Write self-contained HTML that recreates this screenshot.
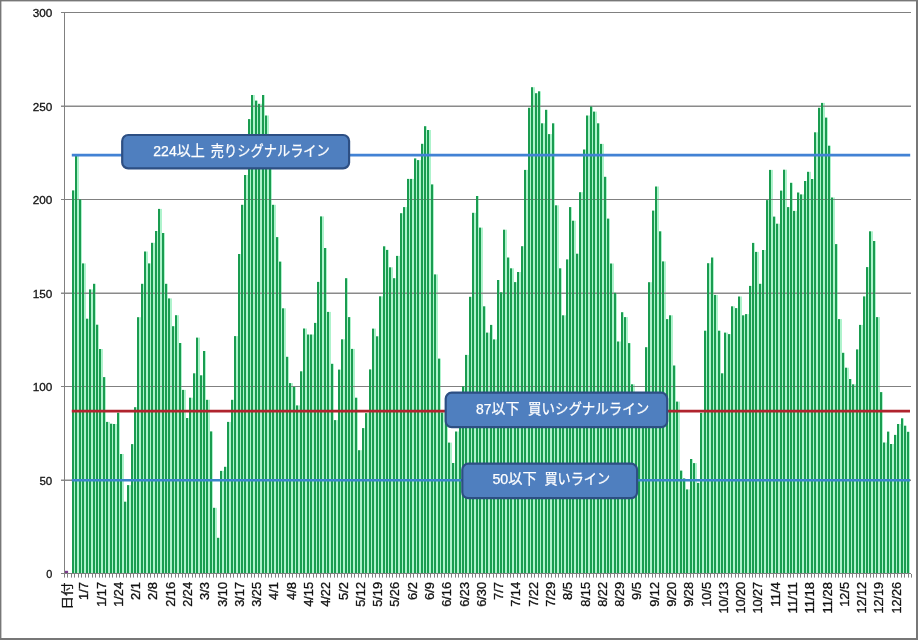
<!DOCTYPE html><html><head><meta charset="utf-8"><style>html,body{margin:0;padding:0;background:#fff;}svg{display:block;will-change:transform;}text{font-family:"Liberation Sans","Noto Sans CJK JP",sans-serif;}</style></head><body>
<svg width="918" height="640" viewBox="0 0 918 640">
<rect x="0" y="0" width="918" height="640" fill="#fff"/>
<g fill="#aef3cc"><rect x="74" y="190.4" width="1" height="382.6"/><rect x="77" y="156.0" width="2" height="417.0"/><rect x="81" y="199.4" width="1" height="373.6"/><rect x="84" y="263.4" width="2" height="309.6"/><rect x="88" y="318.7" width="1" height="254.3"/><rect x="91" y="289.4" width="2" height="283.6"/><rect x="95" y="283.8" width="1" height="289.2"/><rect x="98" y="324.7" width="1" height="248.3"/><rect x="101" y="349.0" width="2" height="224.0"/><rect x="105" y="377.1" width="1" height="195.9"/><rect x="108" y="421.9" width="2" height="151.1"/><rect x="112" y="423.7" width="1" height="149.3"/><rect x="115" y="424.0" width="2" height="149.0"/><rect x="119" y="412.7" width="1" height="160.3"/><rect x="122" y="454.0" width="2" height="119.0"/><rect x="126" y="501.7" width="1" height="71.3"/><rect x="129" y="485.1" width="2" height="87.9"/><rect x="133" y="444.1" width="1" height="128.9"/><rect x="136" y="407.2" width="1" height="165.8"/><rect x="139" y="317.2" width="2" height="255.8"/><rect x="143" y="283.8" width="1" height="289.2"/><rect x="146" y="251.5" width="2" height="321.5"/><rect x="150" y="263.4" width="1" height="309.6"/><rect x="153" y="242.8" width="2" height="330.2"/><rect x="157" y="231.0" width="1" height="342.0"/><rect x="160" y="208.9" width="2" height="364.1"/><rect x="164" y="233.0" width="1" height="340.0"/><rect x="167" y="283.8" width="1" height="289.2"/><rect x="170" y="298.4" width="2" height="274.6"/><rect x="174" y="326.2" width="1" height="246.8"/><rect x="177" y="315.2" width="2" height="257.8"/><rect x="181" y="343.0" width="1" height="230.0"/><rect x="184" y="389.9" width="2" height="183.1"/><rect x="188" y="418.0" width="1" height="155.0"/><rect x="191" y="397.7" width="2" height="175.3"/><rect x="195" y="373.3" width="1" height="199.7"/><rect x="198" y="337.6" width="2" height="235.4"/><rect x="202" y="375.3" width="1" height="197.7"/><rect x="205" y="351.0" width="1" height="222.0"/><rect x="208" y="399.8" width="2" height="173.2"/><rect x="212" y="431.4" width="1" height="141.6"/><rect x="215" y="507.8" width="2" height="65.2"/><rect x="219" y="537.8" width="1" height="35.2"/><rect x="222" y="470.9" width="2" height="102.1"/><rect x="226" y="466.8" width="1" height="106.2"/><rect x="229" y="421.9" width="2" height="151.1"/><rect x="233" y="399.8" width="1" height="173.2"/><rect x="236" y="336.1" width="2" height="236.9"/><rect x="240" y="254.0" width="1" height="319.0"/><rect x="243" y="204.8" width="1" height="368.2"/><rect x="246" y="175.0" width="2" height="398.0"/><rect x="250" y="119.1" width="1" height="453.9"/><rect x="253" y="95.0" width="2" height="478.0"/><rect x="257" y="100.6" width="1" height="472.4"/><rect x="260" y="103.8" width="2" height="469.2"/><rect x="264" y="95.0" width="1" height="478.0"/><rect x="267" y="115.5" width="2" height="457.5"/><rect x="271" y="150.0" width="1" height="423.0"/><rect x="274" y="204.8" width="2" height="368.2"/><rect x="278" y="237.1" width="1" height="335.9"/><rect x="281" y="261.6" width="1" height="311.4"/><rect x="284" y="308.3" width="2" height="264.7"/><rect x="288" y="356.8" width="1" height="216.2"/><rect x="291" y="383.1" width="2" height="189.9"/><rect x="295" y="386.9" width="1" height="186.1"/><rect x="298" y="405.4" width="2" height="167.6"/><rect x="302" y="371.3" width="1" height="201.7"/><rect x="305" y="328.5" width="2" height="244.5"/><rect x="309" y="334.5" width="1" height="238.5"/><rect x="312" y="334.5" width="2" height="238.5"/><rect x="316" y="322.9" width="1" height="250.1"/><rect x="319" y="281.9" width="1" height="291.1"/><rect x="322" y="216.4" width="2" height="356.6"/><rect x="326" y="248.0" width="1" height="325.0"/><rect x="329" y="311.9" width="2" height="261.1"/><rect x="333" y="363.8" width="1" height="209.2"/><rect x="336" y="420.1" width="2" height="152.9"/><rect x="340" y="369.6" width="1" height="203.4"/><rect x="343" y="339.3" width="2" height="233.7"/><rect x="347" y="278.2" width="1" height="294.8"/><rect x="350" y="317.1" width="1" height="255.9"/><rect x="353" y="348.9" width="2" height="224.1"/><rect x="357" y="397.7" width="1" height="175.3"/><rect x="360" y="450.2" width="2" height="122.8"/><rect x="364" y="428.1" width="1" height="144.9"/><rect x="367" y="413.1" width="2" height="159.9"/><rect x="371" y="369.4" width="1" height="203.6"/><rect x="374" y="328.6" width="2" height="244.4"/><rect x="378" y="336.3" width="1" height="236.7"/><rect x="381" y="296.3" width="2" height="276.7"/><rect x="385" y="246.3" width="1" height="326.7"/><rect x="388" y="249.9" width="1" height="323.1"/><rect x="391" y="267.3" width="2" height="305.7"/><rect x="395" y="278.2" width="1" height="294.8"/><rect x="398" y="255.9" width="2" height="317.1"/><rect x="402" y="213.2" width="1" height="359.8"/><rect x="405" y="207.1" width="2" height="365.9"/><rect x="409" y="178.9" width="1" height="394.1"/><rect x="412" y="178.9" width="2" height="394.1"/><rect x="416" y="158.4" width="1" height="414.6"/><rect x="419" y="160.1" width="2" height="412.9"/><rect x="423" y="143.8" width="1" height="429.2"/><rect x="426" y="126.2" width="1" height="446.8"/><rect x="429" y="130.0" width="2" height="443.0"/><rect x="433" y="184.4" width="1" height="388.6"/><rect x="436" y="274.4" width="2" height="298.6"/><rect x="440" y="358.6" width="1" height="214.4"/><rect x="443" y="412.5" width="2" height="160.5"/><rect x="447" y="400.0" width="1" height="173.0"/><rect x="450" y="442.6" width="2" height="130.4"/><rect x="454" y="463.0" width="1" height="110.0"/><rect x="457" y="431.5" width="2" height="141.5"/><rect x="461" y="405.0" width="1" height="168.0"/><rect x="464" y="386.4" width="1" height="186.6"/><rect x="467" y="354.9" width="2" height="218.1"/><rect x="471" y="296.8" width="1" height="276.2"/><rect x="474" y="212.8" width="2" height="360.2"/><rect x="478" y="196.0" width="1" height="377.0"/><rect x="481" y="227.6" width="2" height="345.4"/><rect x="485" y="306.3" width="1" height="266.7"/><rect x="488" y="332.6" width="2" height="240.4"/><rect x="492" y="324.9" width="1" height="248.1"/><rect x="495" y="339.4" width="2" height="233.6"/><rect x="499" y="280.0" width="1" height="293.0"/><rect x="502" y="292.3" width="1" height="280.7"/><rect x="505" y="229.7" width="2" height="343.3"/><rect x="509" y="257.5" width="1" height="315.5"/><rect x="512" y="268.3" width="2" height="304.7"/><rect x="516" y="282.1" width="1" height="290.9"/><rect x="519" y="272.0" width="2" height="301.0"/><rect x="523" y="246.2" width="1" height="326.8"/><rect x="526" y="169.9" width="2" height="403.1"/><rect x="530" y="107.8" width="1" height="465.2"/><rect x="533" y="87.2" width="2" height="485.8"/><rect x="537" y="93.2" width="1" height="479.8"/><rect x="540" y="91.3" width="1" height="481.7"/><rect x="543" y="123.3" width="2" height="449.7"/><rect x="547" y="109.8" width="1" height="463.2"/><rect x="550" y="134.1" width="2" height="438.9"/><rect x="554" y="123.3" width="1" height="449.7"/><rect x="557" y="205.3" width="2" height="367.7"/><rect x="561" y="268.3" width="1" height="304.7"/><rect x="564" y="315.3" width="2" height="257.7"/><rect x="568" y="259.4" width="1" height="313.6"/><rect x="571" y="207.1" width="1" height="365.9"/><rect x="574" y="220.7" width="2" height="352.3"/><rect x="578" y="253.7" width="1" height="319.3"/><rect x="581" y="192.2" width="2" height="380.8"/><rect x="585" y="149.5" width="1" height="423.5"/><rect x="588" y="115.5" width="2" height="457.5"/><rect x="592" y="106.5" width="1" height="466.5"/><rect x="595" y="111.6" width="2" height="461.4"/><rect x="599" y="123.3" width="1" height="449.7"/><rect x="602" y="143.9" width="2" height="429.1"/><rect x="606" y="176.8" width="1" height="396.2"/><rect x="609" y="218.6" width="1" height="354.4"/><rect x="612" y="263.5" width="2" height="309.5"/><rect x="616" y="292.8" width="1" height="280.2"/><rect x="619" y="341.5" width="2" height="231.5"/><rect x="623" y="312.2" width="1" height="260.8"/><rect x="626" y="317.1" width="2" height="255.9"/><rect x="630" y="343.1" width="1" height="229.9"/><rect x="633" y="384.3" width="2" height="188.7"/><rect x="637" y="410.0" width="1" height="163.0"/><rect x="640" y="410.0" width="2" height="163.0"/><rect x="644" y="410.0" width="1" height="163.0"/><rect x="647" y="347.2" width="1" height="225.8"/><rect x="650" y="282.2" width="2" height="290.8"/><rect x="654" y="210.6" width="1" height="362.4"/><rect x="657" y="186.5" width="2" height="386.5"/><rect x="661" y="231.3" width="1" height="341.7"/><rect x="664" y="261.4" width="2" height="311.6"/><rect x="668" y="319.1" width="1" height="253.9"/><rect x="671" y="315.3" width="2" height="257.7"/><rect x="675" y="365.5" width="1" height="207.5"/><rect x="678" y="401.6" width="2" height="171.4"/><rect x="682" y="470.6" width="1" height="102.4"/><rect x="685" y="478.4" width="1" height="94.6"/><rect x="688" y="489.4" width="2" height="83.6"/><rect x="692" y="459.0" width="1" height="114.0"/><rect x="695" y="463.1" width="2" height="109.9"/><rect x="699" y="482.9" width="1" height="90.1"/><rect x="702" y="412.8" width="2" height="160.2"/><rect x="706" y="330.7" width="1" height="242.3"/><rect x="709" y="263.2" width="2" height="309.8"/><rect x="713" y="257.5" width="1" height="315.5"/><rect x="716" y="294.9" width="2" height="278.1"/><rect x="720" y="330.7" width="1" height="242.3"/><rect x="723" y="373.3" width="1" height="199.7"/><rect x="726" y="332.6" width="2" height="240.4"/><rect x="730" y="334.1" width="1" height="238.9"/><rect x="733" y="306.3" width="2" height="266.7"/><rect x="737" y="308.1" width="1" height="264.9"/><rect x="740" y="296.5" width="2" height="276.5"/><rect x="744" y="315.3" width="1" height="257.7"/><rect x="747" y="314.1" width="2" height="258.9"/><rect x="751" y="285.9" width="1" height="287.1"/><rect x="754" y="242.9" width="1" height="330.1"/><rect x="757" y="251.9" width="2" height="321.1"/><rect x="761" y="283.8" width="1" height="289.2"/><rect x="764" y="250.0" width="2" height="323.0"/><rect x="768" y="200.1" width="1" height="372.9"/><rect x="771" y="169.9" width="2" height="403.1"/><rect x="775" y="216.6" width="1" height="356.4"/><rect x="778" y="223.7" width="2" height="349.3"/><rect x="782" y="190.6" width="1" height="382.4"/><rect x="785" y="169.7" width="2" height="403.3"/><rect x="789" y="207.1" width="1" height="365.9"/><rect x="792" y="182.8" width="1" height="390.2"/><rect x="795" y="210.9" width="2" height="362.1"/><rect x="799" y="192.5" width="1" height="380.5"/><rect x="802" y="194.4" width="2" height="378.6"/><rect x="806" y="181.0" width="1" height="392.0"/><rect x="809" y="171.8" width="2" height="401.2"/><rect x="813" y="179.0" width="1" height="394.0"/><rect x="816" y="132.3" width="2" height="440.7"/><rect x="820" y="107.8" width="1" height="465.2"/><rect x="823" y="102.9" width="2" height="470.1"/><rect x="827" y="117.6" width="1" height="455.4"/><rect x="830" y="145.7" width="1" height="427.3"/><rect x="833" y="197.5" width="2" height="375.5"/><rect x="837" y="244.1" width="1" height="328.9"/><rect x="840" y="319.1" width="2" height="253.9"/><rect x="844" y="352.8" width="1" height="220.2"/><rect x="847" y="367.7" width="2" height="205.3"/><rect x="851" y="379.0" width="1" height="194.0"/><rect x="854" y="384.3" width="2" height="188.7"/><rect x="858" y="349.4" width="1" height="223.6"/><rect x="861" y="324.9" width="2" height="248.1"/><rect x="865" y="296.4" width="1" height="276.6"/><rect x="868" y="267.1" width="1" height="305.9"/><rect x="871" y="231.3" width="2" height="341.7"/><rect x="875" y="241.0" width="1" height="332.0"/><rect x="878" y="317.1" width="2" height="255.9"/><rect x="882" y="392.1" width="1" height="180.9"/><rect x="885" y="442.5" width="2" height="130.5"/><rect x="889" y="431.6" width="1" height="141.4"/><rect x="892" y="444.0" width="2" height="129.0"/><rect x="896" y="434.9" width="1" height="138.1"/><rect x="899" y="424.0" width="2" height="149.0"/><rect x="903" y="418.3" width="1" height="154.7"/><rect x="906" y="425.7" width="1" height="147.3"/><rect x="909" y="431.8" width="1" height="141.2"/></g>
<g><rect x="61" y="479.50" width="850" height="1.5" fill="#8a8a8a"/><rect x="61" y="386.00" width="850" height="1" fill="#808080"/><rect x="61" y="292.50" width="850" height="1.5" fill="#8a8a8a"/><rect x="61" y="199.00" width="850" height="1" fill="#808080"/><rect x="61" y="105.50" width="850" height="1.5" fill="#8a8a8a"/><rect x="61" y="12.00" width="850" height="1" fill="#808080"/></g>
<g fill="#1a9c50"><rect x="72" y="190.4" width="2" height="382.6"/><rect x="75" y="156.0" width="2" height="417.0"/><rect x="79" y="199.4" width="2" height="373.6"/><rect x="82" y="263.4" width="2" height="309.6"/><rect x="86" y="318.7" width="2" height="254.3"/><rect x="89" y="289.4" width="2" height="283.6"/><rect x="93" y="283.8" width="2" height="289.2"/><rect x="96" y="324.7" width="2" height="248.3"/><rect x="99" y="349.0" width="2" height="224.0"/><rect x="103" y="377.1" width="2" height="195.9"/><rect x="106" y="421.9" width="2" height="151.1"/><rect x="110" y="423.7" width="2" height="149.3"/><rect x="113" y="424.0" width="2" height="149.0"/><rect x="117" y="412.7" width="2" height="160.3"/><rect x="120" y="454.0" width="2" height="119.0"/><rect x="124" y="501.7" width="2" height="71.3"/><rect x="127" y="485.1" width="2" height="87.9"/><rect x="131" y="444.1" width="2" height="128.9"/><rect x="134" y="407.2" width="2" height="165.8"/><rect x="137" y="317.2" width="2" height="255.8"/><rect x="141" y="283.8" width="2" height="289.2"/><rect x="144" y="251.5" width="2" height="321.5"/><rect x="148" y="263.4" width="2" height="309.6"/><rect x="151" y="242.8" width="2" height="330.2"/><rect x="155" y="231.0" width="2" height="342.0"/><rect x="158" y="208.9" width="2" height="364.1"/><rect x="162" y="233.0" width="2" height="340.0"/><rect x="165" y="283.8" width="2" height="289.2"/><rect x="168" y="298.4" width="2" height="274.6"/><rect x="172" y="326.2" width="2" height="246.8"/><rect x="175" y="315.2" width="2" height="257.8"/><rect x="179" y="343.0" width="2" height="230.0"/><rect x="182" y="389.9" width="2" height="183.1"/><rect x="186" y="418.0" width="2" height="155.0"/><rect x="189" y="397.7" width="2" height="175.3"/><rect x="193" y="373.3" width="2" height="199.7"/><rect x="196" y="337.6" width="2" height="235.4"/><rect x="200" y="375.3" width="2" height="197.7"/><rect x="203" y="351.0" width="2" height="222.0"/><rect x="206" y="399.8" width="2" height="173.2"/><rect x="210" y="431.4" width="2" height="141.6"/><rect x="213" y="507.8" width="2" height="65.2"/><rect x="217" y="537.8" width="2" height="35.2"/><rect x="220" y="470.9" width="2" height="102.1"/><rect x="224" y="466.8" width="2" height="106.2"/><rect x="227" y="421.9" width="2" height="151.1"/><rect x="231" y="399.8" width="2" height="173.2"/><rect x="234" y="336.1" width="2" height="236.9"/><rect x="238" y="254.0" width="2" height="319.0"/><rect x="241" y="204.8" width="2" height="368.2"/><rect x="244" y="175.0" width="2" height="398.0"/><rect x="248" y="119.1" width="2" height="453.9"/><rect x="251" y="95.0" width="2" height="478.0"/><rect x="255" y="100.6" width="2" height="472.4"/><rect x="258" y="103.8" width="2" height="469.2"/><rect x="262" y="95.0" width="2" height="478.0"/><rect x="265" y="115.5" width="2" height="457.5"/><rect x="269" y="150.0" width="2" height="423.0"/><rect x="272" y="204.8" width="2" height="368.2"/><rect x="276" y="237.1" width="2" height="335.9"/><rect x="279" y="261.6" width="2" height="311.4"/><rect x="282" y="308.3" width="2" height="264.7"/><rect x="286" y="356.8" width="2" height="216.2"/><rect x="289" y="383.1" width="2" height="189.9"/><rect x="293" y="386.9" width="2" height="186.1"/><rect x="296" y="405.4" width="2" height="167.6"/><rect x="300" y="371.3" width="2" height="201.7"/><rect x="303" y="328.5" width="2" height="244.5"/><rect x="307" y="334.5" width="2" height="238.5"/><rect x="310" y="334.5" width="2" height="238.5"/><rect x="314" y="322.9" width="2" height="250.1"/><rect x="317" y="281.9" width="2" height="291.1"/><rect x="320" y="216.4" width="2" height="356.6"/><rect x="324" y="248.0" width="2" height="325.0"/><rect x="327" y="311.9" width="2" height="261.1"/><rect x="331" y="363.8" width="2" height="209.2"/><rect x="334" y="420.1" width="2" height="152.9"/><rect x="338" y="369.6" width="2" height="203.4"/><rect x="341" y="339.3" width="2" height="233.7"/><rect x="345" y="278.2" width="2" height="294.8"/><rect x="348" y="317.1" width="2" height="255.9"/><rect x="351" y="348.9" width="2" height="224.1"/><rect x="355" y="397.7" width="2" height="175.3"/><rect x="358" y="450.2" width="2" height="122.8"/><rect x="362" y="428.1" width="2" height="144.9"/><rect x="365" y="413.1" width="2" height="159.9"/><rect x="369" y="369.4" width="2" height="203.6"/><rect x="372" y="328.6" width="2" height="244.4"/><rect x="376" y="336.3" width="2" height="236.7"/><rect x="379" y="296.3" width="2" height="276.7"/><rect x="383" y="246.3" width="2" height="326.7"/><rect x="386" y="249.9" width="2" height="323.1"/><rect x="389" y="267.3" width="2" height="305.7"/><rect x="393" y="278.2" width="2" height="294.8"/><rect x="396" y="255.9" width="2" height="317.1"/><rect x="400" y="213.2" width="2" height="359.8"/><rect x="403" y="207.1" width="2" height="365.9"/><rect x="407" y="178.9" width="2" height="394.1"/><rect x="410" y="178.9" width="2" height="394.1"/><rect x="414" y="158.4" width="2" height="414.6"/><rect x="417" y="160.1" width="2" height="412.9"/><rect x="421" y="143.8" width="2" height="429.2"/><rect x="424" y="126.2" width="2" height="446.8"/><rect x="427" y="130.0" width="2" height="443.0"/><rect x="431" y="184.4" width="2" height="388.6"/><rect x="434" y="274.4" width="2" height="298.6"/><rect x="438" y="358.6" width="2" height="214.4"/><rect x="441" y="412.5" width="2" height="160.5"/><rect x="445" y="400.0" width="2" height="173.0"/><rect x="448" y="442.6" width="2" height="130.4"/><rect x="452" y="463.0" width="2" height="110.0"/><rect x="455" y="431.5" width="2" height="141.5"/><rect x="459" y="405.0" width="2" height="168.0"/><rect x="462" y="386.4" width="2" height="186.6"/><rect x="465" y="354.9" width="2" height="218.1"/><rect x="469" y="296.8" width="2" height="276.2"/><rect x="472" y="212.8" width="2" height="360.2"/><rect x="476" y="196.0" width="2" height="377.0"/><rect x="479" y="227.6" width="2" height="345.4"/><rect x="483" y="306.3" width="2" height="266.7"/><rect x="486" y="332.6" width="2" height="240.4"/><rect x="490" y="324.9" width="2" height="248.1"/><rect x="493" y="339.4" width="2" height="233.6"/><rect x="497" y="280.0" width="2" height="293.0"/><rect x="500" y="292.3" width="2" height="280.7"/><rect x="503" y="229.7" width="2" height="343.3"/><rect x="507" y="257.5" width="2" height="315.5"/><rect x="510" y="268.3" width="2" height="304.7"/><rect x="514" y="282.1" width="2" height="290.9"/><rect x="517" y="272.0" width="2" height="301.0"/><rect x="521" y="246.2" width="2" height="326.8"/><rect x="524" y="169.9" width="2" height="403.1"/><rect x="528" y="107.8" width="2" height="465.2"/><rect x="531" y="87.2" width="2" height="485.8"/><rect x="535" y="93.2" width="2" height="479.8"/><rect x="538" y="91.3" width="2" height="481.7"/><rect x="541" y="123.3" width="2" height="449.7"/><rect x="545" y="109.8" width="2" height="463.2"/><rect x="548" y="134.1" width="2" height="438.9"/><rect x="552" y="123.3" width="2" height="449.7"/><rect x="555" y="205.3" width="2" height="367.7"/><rect x="559" y="268.3" width="2" height="304.7"/><rect x="562" y="315.3" width="2" height="257.7"/><rect x="566" y="259.4" width="2" height="313.6"/><rect x="569" y="207.1" width="2" height="365.9"/><rect x="572" y="220.7" width="2" height="352.3"/><rect x="576" y="253.7" width="2" height="319.3"/><rect x="579" y="192.2" width="2" height="380.8"/><rect x="583" y="149.5" width="2" height="423.5"/><rect x="586" y="115.5" width="2" height="457.5"/><rect x="590" y="106.5" width="2" height="466.5"/><rect x="593" y="111.6" width="2" height="461.4"/><rect x="597" y="123.3" width="2" height="449.7"/><rect x="600" y="143.9" width="2" height="429.1"/><rect x="604" y="176.8" width="2" height="396.2"/><rect x="607" y="218.6" width="2" height="354.4"/><rect x="610" y="263.5" width="2" height="309.5"/><rect x="614" y="292.8" width="2" height="280.2"/><rect x="617" y="341.5" width="2" height="231.5"/><rect x="621" y="312.2" width="2" height="260.8"/><rect x="624" y="317.1" width="2" height="255.9"/><rect x="628" y="343.1" width="2" height="229.9"/><rect x="631" y="384.3" width="2" height="188.7"/><rect x="635" y="410.0" width="2" height="163.0"/><rect x="638" y="410.0" width="2" height="163.0"/><rect x="642" y="410.0" width="2" height="163.0"/><rect x="645" y="347.2" width="2" height="225.8"/><rect x="648" y="282.2" width="2" height="290.8"/><rect x="652" y="210.6" width="2" height="362.4"/><rect x="655" y="186.5" width="2" height="386.5"/><rect x="659" y="231.3" width="2" height="341.7"/><rect x="662" y="261.4" width="2" height="311.6"/><rect x="666" y="319.1" width="2" height="253.9"/><rect x="669" y="315.3" width="2" height="257.7"/><rect x="673" y="365.5" width="2" height="207.5"/><rect x="676" y="401.6" width="2" height="171.4"/><rect x="680" y="470.6" width="2" height="102.4"/><rect x="683" y="478.4" width="2" height="94.6"/><rect x="686" y="489.4" width="2" height="83.6"/><rect x="690" y="459.0" width="2" height="114.0"/><rect x="693" y="463.1" width="2" height="109.9"/><rect x="697" y="482.9" width="2" height="90.1"/><rect x="700" y="412.8" width="2" height="160.2"/><rect x="704" y="330.7" width="2" height="242.3"/><rect x="707" y="263.2" width="2" height="309.8"/><rect x="711" y="257.5" width="2" height="315.5"/><rect x="714" y="294.9" width="2" height="278.1"/><rect x="718" y="330.7" width="2" height="242.3"/><rect x="721" y="373.3" width="2" height="199.7"/><rect x="724" y="332.6" width="2" height="240.4"/><rect x="728" y="334.1" width="2" height="238.9"/><rect x="731" y="306.3" width="2" height="266.7"/><rect x="735" y="308.1" width="2" height="264.9"/><rect x="738" y="296.5" width="2" height="276.5"/><rect x="742" y="315.3" width="2" height="257.7"/><rect x="745" y="314.1" width="2" height="258.9"/><rect x="749" y="285.9" width="2" height="287.1"/><rect x="752" y="242.9" width="2" height="330.1"/><rect x="755" y="251.9" width="2" height="321.1"/><rect x="759" y="283.8" width="2" height="289.2"/><rect x="762" y="250.0" width="2" height="323.0"/><rect x="766" y="200.1" width="2" height="372.9"/><rect x="769" y="169.9" width="2" height="403.1"/><rect x="773" y="216.6" width="2" height="356.4"/><rect x="776" y="223.7" width="2" height="349.3"/><rect x="780" y="190.6" width="2" height="382.4"/><rect x="783" y="169.7" width="2" height="403.3"/><rect x="787" y="207.1" width="2" height="365.9"/><rect x="790" y="182.8" width="2" height="390.2"/><rect x="793" y="210.9" width="2" height="362.1"/><rect x="797" y="192.5" width="2" height="380.5"/><rect x="800" y="194.4" width="2" height="378.6"/><rect x="804" y="181.0" width="2" height="392.0"/><rect x="807" y="171.8" width="2" height="401.2"/><rect x="811" y="179.0" width="2" height="394.0"/><rect x="814" y="132.3" width="2" height="440.7"/><rect x="818" y="107.8" width="2" height="465.2"/><rect x="821" y="102.9" width="2" height="470.1"/><rect x="825" y="117.6" width="2" height="455.4"/><rect x="828" y="145.7" width="2" height="427.3"/><rect x="831" y="197.5" width="2" height="375.5"/><rect x="835" y="244.1" width="2" height="328.9"/><rect x="838" y="319.1" width="2" height="253.9"/><rect x="842" y="352.8" width="2" height="220.2"/><rect x="845" y="367.7" width="2" height="205.3"/><rect x="849" y="379.0" width="2" height="194.0"/><rect x="852" y="384.3" width="2" height="188.7"/><rect x="856" y="349.4" width="2" height="223.6"/><rect x="859" y="324.9" width="2" height="248.1"/><rect x="863" y="296.4" width="2" height="276.6"/><rect x="866" y="267.1" width="2" height="305.9"/><rect x="869" y="231.3" width="2" height="341.7"/><rect x="873" y="241.0" width="2" height="332.0"/><rect x="876" y="317.1" width="2" height="255.9"/><rect x="880" y="392.1" width="2" height="180.9"/><rect x="883" y="442.5" width="2" height="130.5"/><rect x="887" y="431.6" width="2" height="141.4"/><rect x="890" y="444.0" width="2" height="129.0"/><rect x="894" y="434.9" width="2" height="138.1"/><rect x="897" y="424.0" width="2" height="149.0"/><rect x="901" y="418.3" width="2" height="154.7"/><rect x="904" y="425.7" width="2" height="147.3"/><rect x="907" y="431.8" width="2" height="141.2"/></g>
<rect x="64.5" y="570.8" width="3.6" height="2.2" fill="#7b3a8c"/>
<g stroke="#808080" stroke-width="1"><line x1="64.5" y1="12" x2="64.5" y2="574"/><line x1="61" y1="573.5" x2="911" y2="573.5"/><line x1="61" y1="12.5" x2="64" y2="12.5"/>
<line x1="64.50" y1="574" x2="64.50" y2="577.6"/><line x1="67.50" y1="574" x2="67.50" y2="577.6"/><line x1="71.50" y1="574" x2="71.50" y2="577.6"/><line x1="74.50" y1="574" x2="74.50" y2="577.6"/><line x1="78.50" y1="574" x2="78.50" y2="577.6"/><line x1="81.50" y1="574" x2="81.50" y2="577.6"/><line x1="85.50" y1="574" x2="85.50" y2="577.6"/><line x1="88.50" y1="574" x2="88.50" y2="577.6"/><line x1="92.50" y1="574" x2="92.50" y2="577.6"/><line x1="95.50" y1="574" x2="95.50" y2="577.6"/><line x1="99.50" y1="574" x2="99.50" y2="577.6"/><line x1="102.50" y1="574" x2="102.50" y2="577.6"/><line x1="105.50" y1="574" x2="105.50" y2="577.6"/><line x1="109.50" y1="574" x2="109.50" y2="577.6"/><line x1="112.50" y1="574" x2="112.50" y2="577.6"/><line x1="116.50" y1="574" x2="116.50" y2="577.6"/><line x1="119.50" y1="574" x2="119.50" y2="577.6"/><line x1="123.50" y1="574" x2="123.50" y2="577.6"/><line x1="126.50" y1="574" x2="126.50" y2="577.6"/><line x1="130.50" y1="574" x2="130.50" y2="577.6"/><line x1="133.50" y1="574" x2="133.50" y2="577.6"/><line x1="137.50" y1="574" x2="137.50" y2="577.6"/><line x1="140.50" y1="574" x2="140.50" y2="577.6"/><line x1="144.50" y1="574" x2="144.50" y2="577.6"/><line x1="147.50" y1="574" x2="147.50" y2="577.6"/><line x1="150.50" y1="574" x2="150.50" y2="577.6"/><line x1="154.50" y1="574" x2="154.50" y2="577.6"/><line x1="157.50" y1="574" x2="157.50" y2="577.6"/><line x1="161.50" y1="574" x2="161.50" y2="577.6"/><line x1="164.50" y1="574" x2="164.50" y2="577.6"/><line x1="168.50" y1="574" x2="168.50" y2="577.6"/><line x1="171.50" y1="574" x2="171.50" y2="577.6"/><line x1="175.50" y1="574" x2="175.50" y2="577.6"/><line x1="178.50" y1="574" x2="178.50" y2="577.6"/><line x1="182.50" y1="574" x2="182.50" y2="577.6"/><line x1="185.50" y1="574" x2="185.50" y2="577.6"/><line x1="188.50" y1="574" x2="188.50" y2="577.6"/><line x1="192.50" y1="574" x2="192.50" y2="577.6"/><line x1="195.50" y1="574" x2="195.50" y2="577.6"/><line x1="199.50" y1="574" x2="199.50" y2="577.6"/><line x1="202.50" y1="574" x2="202.50" y2="577.6"/><line x1="206.50" y1="574" x2="206.50" y2="577.6"/><line x1="209.50" y1="574" x2="209.50" y2="577.6"/><line x1="213.50" y1="574" x2="213.50" y2="577.6"/><line x1="216.50" y1="574" x2="216.50" y2="577.6"/><line x1="220.50" y1="574" x2="220.50" y2="577.6"/><line x1="223.50" y1="574" x2="223.50" y2="577.6"/><line x1="226.50" y1="574" x2="226.50" y2="577.6"/><line x1="230.50" y1="574" x2="230.50" y2="577.6"/><line x1="233.50" y1="574" x2="233.50" y2="577.6"/><line x1="237.50" y1="574" x2="237.50" y2="577.6"/><line x1="240.50" y1="574" x2="240.50" y2="577.6"/><line x1="244.50" y1="574" x2="244.50" y2="577.6"/><line x1="247.50" y1="574" x2="247.50" y2="577.6"/><line x1="251.50" y1="574" x2="251.50" y2="577.6"/><line x1="254.50" y1="574" x2="254.50" y2="577.6"/><line x1="258.50" y1="574" x2="258.50" y2="577.6"/><line x1="261.50" y1="574" x2="261.50" y2="577.6"/><line x1="265.50" y1="574" x2="265.50" y2="577.6"/><line x1="268.50" y1="574" x2="268.50" y2="577.6"/><line x1="271.50" y1="574" x2="271.50" y2="577.6"/><line x1="275.50" y1="574" x2="275.50" y2="577.6"/><line x1="278.50" y1="574" x2="278.50" y2="577.6"/><line x1="282.50" y1="574" x2="282.50" y2="577.6"/><line x1="285.50" y1="574" x2="285.50" y2="577.6"/><line x1="289.50" y1="574" x2="289.50" y2="577.6"/><line x1="292.50" y1="574" x2="292.50" y2="577.6"/><line x1="296.50" y1="574" x2="296.50" y2="577.6"/><line x1="299.50" y1="574" x2="299.50" y2="577.6"/><line x1="303.50" y1="574" x2="303.50" y2="577.6"/><line x1="306.50" y1="574" x2="306.50" y2="577.6"/><line x1="309.50" y1="574" x2="309.50" y2="577.6"/><line x1="313.50" y1="574" x2="313.50" y2="577.6"/><line x1="316.50" y1="574" x2="316.50" y2="577.6"/><line x1="320.50" y1="574" x2="320.50" y2="577.6"/><line x1="323.50" y1="574" x2="323.50" y2="577.6"/><line x1="327.50" y1="574" x2="327.50" y2="577.6"/><line x1="330.50" y1="574" x2="330.50" y2="577.6"/><line x1="334.50" y1="574" x2="334.50" y2="577.6"/><line x1="337.50" y1="574" x2="337.50" y2="577.6"/><line x1="341.50" y1="574" x2="341.50" y2="577.6"/><line x1="344.50" y1="574" x2="344.50" y2="577.6"/><line x1="347.50" y1="574" x2="347.50" y2="577.6"/><line x1="351.50" y1="574" x2="351.50" y2="577.6"/><line x1="354.50" y1="574" x2="354.50" y2="577.6"/><line x1="358.50" y1="574" x2="358.50" y2="577.6"/><line x1="361.50" y1="574" x2="361.50" y2="577.6"/><line x1="365.50" y1="574" x2="365.50" y2="577.6"/><line x1="368.50" y1="574" x2="368.50" y2="577.6"/><line x1="372.50" y1="574" x2="372.50" y2="577.6"/><line x1="375.50" y1="574" x2="375.50" y2="577.6"/><line x1="379.50" y1="574" x2="379.50" y2="577.6"/><line x1="382.50" y1="574" x2="382.50" y2="577.6"/><line x1="386.50" y1="574" x2="386.50" y2="577.6"/><line x1="389.50" y1="574" x2="389.50" y2="577.6"/><line x1="392.50" y1="574" x2="392.50" y2="577.6"/><line x1="396.50" y1="574" x2="396.50" y2="577.6"/><line x1="399.50" y1="574" x2="399.50" y2="577.6"/><line x1="403.50" y1="574" x2="403.50" y2="577.6"/><line x1="406.50" y1="574" x2="406.50" y2="577.6"/><line x1="410.50" y1="574" x2="410.50" y2="577.6"/><line x1="413.50" y1="574" x2="413.50" y2="577.6"/><line x1="417.50" y1="574" x2="417.50" y2="577.6"/><line x1="420.50" y1="574" x2="420.50" y2="577.6"/><line x1="424.50" y1="574" x2="424.50" y2="577.6"/><line x1="427.50" y1="574" x2="427.50" y2="577.6"/><line x1="430.50" y1="574" x2="430.50" y2="577.6"/><line x1="434.50" y1="574" x2="434.50" y2="577.6"/><line x1="437.50" y1="574" x2="437.50" y2="577.6"/><line x1="441.50" y1="574" x2="441.50" y2="577.6"/><line x1="444.50" y1="574" x2="444.50" y2="577.6"/><line x1="448.50" y1="574" x2="448.50" y2="577.6"/><line x1="451.50" y1="574" x2="451.50" y2="577.6"/><line x1="455.50" y1="574" x2="455.50" y2="577.6"/><line x1="458.50" y1="574" x2="458.50" y2="577.6"/><line x1="462.50" y1="574" x2="462.50" y2="577.6"/><line x1="465.50" y1="574" x2="465.50" y2="577.6"/><line x1="468.50" y1="574" x2="468.50" y2="577.6"/><line x1="472.50" y1="574" x2="472.50" y2="577.6"/><line x1="475.50" y1="574" x2="475.50" y2="577.6"/><line x1="479.50" y1="574" x2="479.50" y2="577.6"/><line x1="482.50" y1="574" x2="482.50" y2="577.6"/><line x1="486.50" y1="574" x2="486.50" y2="577.6"/><line x1="489.50" y1="574" x2="489.50" y2="577.6"/><line x1="493.50" y1="574" x2="493.50" y2="577.6"/><line x1="496.50" y1="574" x2="496.50" y2="577.6"/><line x1="500.50" y1="574" x2="500.50" y2="577.6"/><line x1="503.50" y1="574" x2="503.50" y2="577.6"/><line x1="507.50" y1="574" x2="507.50" y2="577.6"/><line x1="510.50" y1="574" x2="510.50" y2="577.6"/><line x1="513.50" y1="574" x2="513.50" y2="577.6"/><line x1="517.50" y1="574" x2="517.50" y2="577.6"/><line x1="520.50" y1="574" x2="520.50" y2="577.6"/><line x1="524.50" y1="574" x2="524.50" y2="577.6"/><line x1="527.50" y1="574" x2="527.50" y2="577.6"/><line x1="531.50" y1="574" x2="531.50" y2="577.6"/><line x1="534.50" y1="574" x2="534.50" y2="577.6"/><line x1="538.50" y1="574" x2="538.50" y2="577.6"/><line x1="541.50" y1="574" x2="541.50" y2="577.6"/><line x1="545.50" y1="574" x2="545.50" y2="577.6"/><line x1="548.50" y1="574" x2="548.50" y2="577.6"/><line x1="551.50" y1="574" x2="551.50" y2="577.6"/><line x1="555.50" y1="574" x2="555.50" y2="577.6"/><line x1="558.50" y1="574" x2="558.50" y2="577.6"/><line x1="562.50" y1="574" x2="562.50" y2="577.6"/><line x1="565.50" y1="574" x2="565.50" y2="577.6"/><line x1="569.50" y1="574" x2="569.50" y2="577.6"/><line x1="572.50" y1="574" x2="572.50" y2="577.6"/><line x1="576.50" y1="574" x2="576.50" y2="577.6"/><line x1="579.50" y1="574" x2="579.50" y2="577.6"/><line x1="583.50" y1="574" x2="583.50" y2="577.6"/><line x1="586.50" y1="574" x2="586.50" y2="577.6"/><line x1="589.50" y1="574" x2="589.50" y2="577.6"/><line x1="593.50" y1="574" x2="593.50" y2="577.6"/><line x1="596.50" y1="574" x2="596.50" y2="577.6"/><line x1="600.50" y1="574" x2="600.50" y2="577.6"/><line x1="603.50" y1="574" x2="603.50" y2="577.6"/><line x1="607.50" y1="574" x2="607.50" y2="577.6"/><line x1="610.50" y1="574" x2="610.50" y2="577.6"/><line x1="614.50" y1="574" x2="614.50" y2="577.6"/><line x1="617.50" y1="574" x2="617.50" y2="577.6"/><line x1="621.50" y1="574" x2="621.50" y2="577.6"/><line x1="624.50" y1="574" x2="624.50" y2="577.6"/><line x1="628.50" y1="574" x2="628.50" y2="577.6"/><line x1="631.50" y1="574" x2="631.50" y2="577.6"/><line x1="634.50" y1="574" x2="634.50" y2="577.6"/><line x1="638.50" y1="574" x2="638.50" y2="577.6"/><line x1="641.50" y1="574" x2="641.50" y2="577.6"/><line x1="645.50" y1="574" x2="645.50" y2="577.6"/><line x1="648.50" y1="574" x2="648.50" y2="577.6"/><line x1="652.50" y1="574" x2="652.50" y2="577.6"/><line x1="655.50" y1="574" x2="655.50" y2="577.6"/><line x1="659.50" y1="574" x2="659.50" y2="577.6"/><line x1="662.50" y1="574" x2="662.50" y2="577.6"/><line x1="666.50" y1="574" x2="666.50" y2="577.6"/><line x1="669.50" y1="574" x2="669.50" y2="577.6"/><line x1="672.50" y1="574" x2="672.50" y2="577.6"/><line x1="676.50" y1="574" x2="676.50" y2="577.6"/><line x1="679.50" y1="574" x2="679.50" y2="577.6"/><line x1="683.50" y1="574" x2="683.50" y2="577.6"/><line x1="686.50" y1="574" x2="686.50" y2="577.6"/><line x1="690.50" y1="574" x2="690.50" y2="577.6"/><line x1="693.50" y1="574" x2="693.50" y2="577.6"/><line x1="697.50" y1="574" x2="697.50" y2="577.6"/><line x1="700.50" y1="574" x2="700.50" y2="577.6"/><line x1="704.50" y1="574" x2="704.50" y2="577.6"/><line x1="707.50" y1="574" x2="707.50" y2="577.6"/><line x1="710.50" y1="574" x2="710.50" y2="577.6"/><line x1="714.50" y1="574" x2="714.50" y2="577.6"/><line x1="717.50" y1="574" x2="717.50" y2="577.6"/><line x1="721.50" y1="574" x2="721.50" y2="577.6"/><line x1="724.50" y1="574" x2="724.50" y2="577.6"/><line x1="728.50" y1="574" x2="728.50" y2="577.6"/><line x1="731.50" y1="574" x2="731.50" y2="577.6"/><line x1="735.50" y1="574" x2="735.50" y2="577.6"/><line x1="738.50" y1="574" x2="738.50" y2="577.6"/><line x1="742.50" y1="574" x2="742.50" y2="577.6"/><line x1="745.50" y1="574" x2="745.50" y2="577.6"/><line x1="749.50" y1="574" x2="749.50" y2="577.6"/><line x1="752.50" y1="574" x2="752.50" y2="577.6"/><line x1="755.50" y1="574" x2="755.50" y2="577.6"/><line x1="759.50" y1="574" x2="759.50" y2="577.6"/><line x1="762.50" y1="574" x2="762.50" y2="577.6"/><line x1="766.50" y1="574" x2="766.50" y2="577.6"/><line x1="769.50" y1="574" x2="769.50" y2="577.6"/><line x1="773.50" y1="574" x2="773.50" y2="577.6"/><line x1="776.50" y1="574" x2="776.50" y2="577.6"/><line x1="780.50" y1="574" x2="780.50" y2="577.6"/><line x1="783.50" y1="574" x2="783.50" y2="577.6"/><line x1="787.50" y1="574" x2="787.50" y2="577.6"/><line x1="790.50" y1="574" x2="790.50" y2="577.6"/><line x1="793.50" y1="574" x2="793.50" y2="577.6"/><line x1="797.50" y1="574" x2="797.50" y2="577.6"/><line x1="800.50" y1="574" x2="800.50" y2="577.6"/><line x1="804.50" y1="574" x2="804.50" y2="577.6"/><line x1="807.50" y1="574" x2="807.50" y2="577.6"/><line x1="811.50" y1="574" x2="811.50" y2="577.6"/><line x1="814.50" y1="574" x2="814.50" y2="577.6"/><line x1="818.50" y1="574" x2="818.50" y2="577.6"/><line x1="821.50" y1="574" x2="821.50" y2="577.6"/><line x1="825.50" y1="574" x2="825.50" y2="577.6"/><line x1="828.50" y1="574" x2="828.50" y2="577.6"/><line x1="831.50" y1="574" x2="831.50" y2="577.6"/><line x1="835.50" y1="574" x2="835.50" y2="577.6"/><line x1="838.50" y1="574" x2="838.50" y2="577.6"/><line x1="842.50" y1="574" x2="842.50" y2="577.6"/><line x1="845.50" y1="574" x2="845.50" y2="577.6"/><line x1="849.50" y1="574" x2="849.50" y2="577.6"/><line x1="852.50" y1="574" x2="852.50" y2="577.6"/><line x1="856.50" y1="574" x2="856.50" y2="577.6"/><line x1="859.50" y1="574" x2="859.50" y2="577.6"/><line x1="863.50" y1="574" x2="863.50" y2="577.6"/><line x1="866.50" y1="574" x2="866.50" y2="577.6"/><line x1="870.50" y1="574" x2="870.50" y2="577.6"/><line x1="873.50" y1="574" x2="873.50" y2="577.6"/><line x1="876.50" y1="574" x2="876.50" y2="577.6"/><line x1="880.50" y1="574" x2="880.50" y2="577.6"/><line x1="883.50" y1="574" x2="883.50" y2="577.6"/><line x1="887.50" y1="574" x2="887.50" y2="577.6"/><line x1="890.50" y1="574" x2="890.50" y2="577.6"/><line x1="894.50" y1="574" x2="894.50" y2="577.6"/><line x1="897.50" y1="574" x2="897.50" y2="577.6"/><line x1="901.50" y1="574" x2="901.50" y2="577.6"/><line x1="904.50" y1="574" x2="904.50" y2="577.6"/><line x1="908.50" y1="574" x2="908.50" y2="577.6"/><line x1="911.50" y1="574" x2="911.50" y2="577.6"/></g>
<g font-size="11.7" fill="#111" stroke="#111" stroke-width="0.3"><text x="52.3" y="578.1" text-anchor="end" textLength="6.06" lengthAdjust="spacingAndGlyphs">0</text><text x="52.3" y="484.6" text-anchor="end" textLength="12.82" lengthAdjust="spacingAndGlyphs">50</text><text x="52.3" y="391.1" text-anchor="end" textLength="19.58" lengthAdjust="spacingAndGlyphs">100</text><text x="52.3" y="297.6" text-anchor="end" textLength="19.58" lengthAdjust="spacingAndGlyphs">150</text><text x="52.3" y="204.1" text-anchor="end" textLength="19.58" lengthAdjust="spacingAndGlyphs">200</text><text x="52.3" y="110.6" text-anchor="end" textLength="19.58" lengthAdjust="spacingAndGlyphs">250</text><text x="52.3" y="17.1" text-anchor="end" textLength="19.58" lengthAdjust="spacingAndGlyphs">300</text></g>
<g font-size="12" fill="#111" stroke="#111" stroke-width="0.3"><text transform="translate(71.93,582.7) rotate(-90)" text-anchor="end" textLength="26.80" lengthAdjust="spacingAndGlyphs">日付</text><text transform="translate(88.21,582.0) rotate(-90)" text-anchor="end" textLength="18.07" lengthAdjust="spacingAndGlyphs">1/7</text><text transform="translate(105.50,582.0) rotate(-90)" text-anchor="end" textLength="24.83" lengthAdjust="spacingAndGlyphs">1/17</text><text transform="translate(122.79,582.0) rotate(-90)" text-anchor="end" textLength="24.83" lengthAdjust="spacingAndGlyphs">1/24</text><text transform="translate(140.07,582.0) rotate(-90)" text-anchor="end" textLength="18.07" lengthAdjust="spacingAndGlyphs">2/1</text><text transform="translate(157.36,582.0) rotate(-90)" text-anchor="end" textLength="18.07" lengthAdjust="spacingAndGlyphs">2/8</text><text transform="translate(174.64,582.0) rotate(-90)" text-anchor="end" textLength="24.83" lengthAdjust="spacingAndGlyphs">2/16</text><text transform="translate(191.93,582.0) rotate(-90)" text-anchor="end" textLength="24.83" lengthAdjust="spacingAndGlyphs">2/24</text><text transform="translate(209.21,582.0) rotate(-90)" text-anchor="end" textLength="18.07" lengthAdjust="spacingAndGlyphs">3/3</text><text transform="translate(226.50,582.0) rotate(-90)" text-anchor="end" textLength="24.83" lengthAdjust="spacingAndGlyphs">3/10</text><text transform="translate(243.79,582.0) rotate(-90)" text-anchor="end" textLength="24.83" lengthAdjust="spacingAndGlyphs">3/17</text><text transform="translate(261.07,582.0) rotate(-90)" text-anchor="end" textLength="24.83" lengthAdjust="spacingAndGlyphs">3/25</text><text transform="translate(278.36,582.0) rotate(-90)" text-anchor="end" textLength="18.07" lengthAdjust="spacingAndGlyphs">4/1</text><text transform="translate(295.64,582.0) rotate(-90)" text-anchor="end" textLength="18.07" lengthAdjust="spacingAndGlyphs">4/8</text><text transform="translate(312.93,582.0) rotate(-90)" text-anchor="end" textLength="24.83" lengthAdjust="spacingAndGlyphs">4/15</text><text transform="translate(330.21,582.0) rotate(-90)" text-anchor="end" textLength="24.83" lengthAdjust="spacingAndGlyphs">4/22</text><text transform="translate(347.50,582.0) rotate(-90)" text-anchor="end" textLength="18.07" lengthAdjust="spacingAndGlyphs">5/2</text><text transform="translate(364.79,582.0) rotate(-90)" text-anchor="end" textLength="24.83" lengthAdjust="spacingAndGlyphs">5/12</text><text transform="translate(382.07,582.0) rotate(-90)" text-anchor="end" textLength="24.83" lengthAdjust="spacingAndGlyphs">5/19</text><text transform="translate(399.36,582.0) rotate(-90)" text-anchor="end" textLength="24.83" lengthAdjust="spacingAndGlyphs">5/26</text><text transform="translate(416.64,582.0) rotate(-90)" text-anchor="end" textLength="18.07" lengthAdjust="spacingAndGlyphs">6/2</text><text transform="translate(433.93,582.0) rotate(-90)" text-anchor="end" textLength="18.07" lengthAdjust="spacingAndGlyphs">6/9</text><text transform="translate(451.21,582.0) rotate(-90)" text-anchor="end" textLength="24.83" lengthAdjust="spacingAndGlyphs">6/16</text><text transform="translate(468.50,582.0) rotate(-90)" text-anchor="end" textLength="24.83" lengthAdjust="spacingAndGlyphs">6/23</text><text transform="translate(485.79,582.0) rotate(-90)" text-anchor="end" textLength="24.83" lengthAdjust="spacingAndGlyphs">6/30</text><text transform="translate(503.07,582.0) rotate(-90)" text-anchor="end" textLength="18.07" lengthAdjust="spacingAndGlyphs">7/7</text><text transform="translate(520.36,582.0) rotate(-90)" text-anchor="end" textLength="24.83" lengthAdjust="spacingAndGlyphs">7/14</text><text transform="translate(537.64,582.0) rotate(-90)" text-anchor="end" textLength="24.83" lengthAdjust="spacingAndGlyphs">7/22</text><text transform="translate(554.93,582.0) rotate(-90)" text-anchor="end" textLength="24.83" lengthAdjust="spacingAndGlyphs">7/29</text><text transform="translate(572.21,582.0) rotate(-90)" text-anchor="end" textLength="18.07" lengthAdjust="spacingAndGlyphs">8/5</text><text transform="translate(589.50,582.0) rotate(-90)" text-anchor="end" textLength="24.83" lengthAdjust="spacingAndGlyphs">8/15</text><text transform="translate(606.79,582.0) rotate(-90)" text-anchor="end" textLength="24.83" lengthAdjust="spacingAndGlyphs">8/22</text><text transform="translate(624.07,582.0) rotate(-90)" text-anchor="end" textLength="24.83" lengthAdjust="spacingAndGlyphs">8/29</text><text transform="translate(641.36,582.0) rotate(-90)" text-anchor="end" textLength="18.07" lengthAdjust="spacingAndGlyphs">9/5</text><text transform="translate(658.64,582.0) rotate(-90)" text-anchor="end" textLength="24.83" lengthAdjust="spacingAndGlyphs">9/12</text><text transform="translate(675.93,582.0) rotate(-90)" text-anchor="end" textLength="24.83" lengthAdjust="spacingAndGlyphs">9/20</text><text transform="translate(693.21,582.0) rotate(-90)" text-anchor="end" textLength="24.83" lengthAdjust="spacingAndGlyphs">9/28</text><text transform="translate(710.50,582.0) rotate(-90)" text-anchor="end" textLength="24.83" lengthAdjust="spacingAndGlyphs">10/5</text><text transform="translate(727.79,582.0) rotate(-90)" text-anchor="end" textLength="31.59" lengthAdjust="spacingAndGlyphs">10/13</text><text transform="translate(745.07,582.0) rotate(-90)" text-anchor="end" textLength="31.59" lengthAdjust="spacingAndGlyphs">10/20</text><text transform="translate(762.36,582.0) rotate(-90)" text-anchor="end" textLength="31.59" lengthAdjust="spacingAndGlyphs">10/27</text><text transform="translate(779.64,582.0) rotate(-90)" text-anchor="end" textLength="24.83" lengthAdjust="spacingAndGlyphs">11/4</text><text transform="translate(796.93,582.0) rotate(-90)" text-anchor="end" textLength="31.59" lengthAdjust="spacingAndGlyphs">11/11</text><text transform="translate(814.21,582.0) rotate(-90)" text-anchor="end" textLength="31.59" lengthAdjust="spacingAndGlyphs">11/18</text><text transform="translate(831.50,582.0) rotate(-90)" text-anchor="end" textLength="31.59" lengthAdjust="spacingAndGlyphs">11/28</text><text transform="translate(848.79,582.0) rotate(-90)" text-anchor="end" textLength="24.83" lengthAdjust="spacingAndGlyphs">12/5</text><text transform="translate(866.07,582.0) rotate(-90)" text-anchor="end" textLength="31.59" lengthAdjust="spacingAndGlyphs">12/12</text><text transform="translate(883.36,582.0) rotate(-90)" text-anchor="end" textLength="31.59" lengthAdjust="spacingAndGlyphs">12/19</text><text transform="translate(900.64,582.0) rotate(-90)" text-anchor="end" textLength="31.59" lengthAdjust="spacingAndGlyphs">12/26</text></g>
<line x1="71.8" y1="155.2" x2="910.2" y2="155.2" stroke="#4282d4" stroke-width="2.7"/>
<line x1="71.8" y1="411.1" x2="910.0" y2="411.1" stroke="#b0242e" stroke-width="2.8"/>
<line x1="71.8" y1="480.3" x2="910.0" y2="480.3" stroke="#3c86cc" stroke-width="2.6"/>
<rect x="122.19999999999999" y="135.0" width="226.9" height="33.39999999999999" rx="6" ry="6" fill="#4f7fbf" stroke="#2d4f83" stroke-width="2.2"/><text x="153.30" y="156.0" font-size="14.5" fill="#fff" stroke="#fff" stroke-width="0.25" textLength="51.60" lengthAdjust="spacingAndGlyphs">224以上</text><text x="210.80" y="156.0" font-size="14.5" fill="#fff" stroke="#fff" stroke-width="0.25" textLength="119.00" lengthAdjust="spacingAndGlyphs">売りシグナルライン</text>
<rect x="445.70000000000005" y="392.70000000000005" width="221.49999999999994" height="34.499999999999986" rx="6" ry="6" fill="#4f7fbf" stroke="#2d4f83" stroke-width="2.2"/><text x="476.00" y="414.0" font-size="14.5" fill="#fff" stroke="#fff" stroke-width="0.25" textLength="43.30" lengthAdjust="spacingAndGlyphs">87以下</text><text x="528.10" y="414.0" font-size="14.5" fill="#fff" stroke="#fff" stroke-width="0.25" textLength="121.00" lengthAdjust="spacingAndGlyphs">買いシグナルライン</text>
<rect x="462.3" y="463.70000000000005" width="174.80000000000007" height="34.499999999999986" rx="6" ry="6" fill="#4f7fbf" stroke="#2d4f83" stroke-width="2.2"/><text x="492.40" y="484.0" font-size="14.5" fill="#fff" stroke="#fff" stroke-width="0.25" textLength="44.30" lengthAdjust="spacingAndGlyphs">50以下</text><text x="544.50" y="484.0" font-size="14.5" fill="#fff" stroke="#fff" stroke-width="0.25" textLength="65.50" lengthAdjust="spacingAndGlyphs">買いライン</text>
<g fill="#777"><rect x="0" y="0" width="1.4" height="640"/><rect x="0" y="0" width="918" height="1.4"/><rect x="916" y="0" width="2" height="640"/><rect x="0" y="638" width="918" height="2"/></g>
</svg></body></html>
